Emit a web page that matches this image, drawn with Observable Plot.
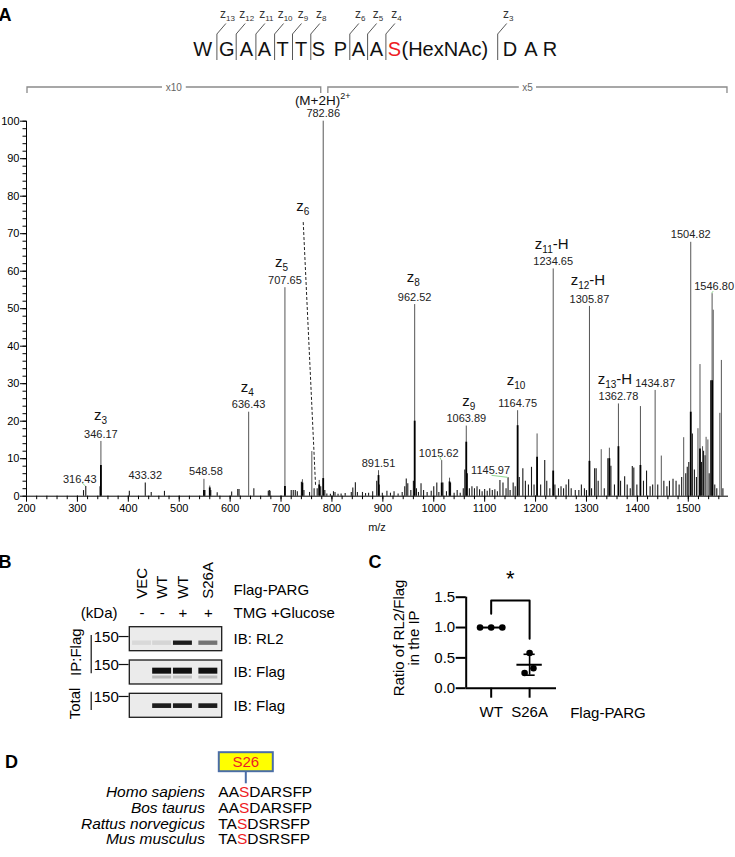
<!DOCTYPE html>
<html><head><meta charset="utf-8">
<script src="https://cdn.jsdelivr.net/npm/d3@7"></script>
<script src="https://cdn.jsdelivr.net/npm/@observablehq/plot@0.6"></script>
<style>
html,body{margin:0;padding:0;background:#fff;}
#fig{position:relative;width:735px;height:857px;overflow:hidden;font-family:Arial,"Liberation Sans",Helvetica,sans-serif;}
#fig > svg{position:absolute;}
</style></head><body><div id="fig"></div>
<script>
const FONT = "Arial, 'Liberation Sans', Helvetica, sans-serif";
const RED = "#ee1c25";

// ================= Panel A data =================
const majorMz = [346.17, 548.58, 560, 636.43, 707.65, 742, 760.5, 775, 782.86, 891.51, 962.52, 1015.62, 1031, 1063.89, 1164.75, 1203, 1234.65, 1305.87, 1329, 1345, 1362.78, 1406, 1434.87, 1447, 1491, 1504.82, 1519, 1523, 1528, 1535, 1538.5, 1546.8, 1549, 1562, 1565];
const majorIntensity = [14.6, 4.5, 2.7, 22.4, 55.6, 4.4, 11.9, 4.2, 100, 6.8, 51.1, 9.5, 4.8, 18.7, 22.8, 16.6, 60.6, 50.6, 12.4, 12.8, 24.6, 23.9, 28.2, 10.7, 15.6, 67.7, 18, 35.1, 13.2, 15.7, 15, 54, 49.6, 22.1, 36.2];
const majorCore = [8.2, 1.5, 2.2, 0, 2.6, 3.5, 0, 3.0, 4.7, 5.5, 20, 3.5, 3.8, 14.4, 18.8, 10.4, 6.7, 9.3, 0, 10, 13.2, 8.2, 0, 0, 0, 22.4, 0, 12.6, 0, 0, 0, 30.8, 0, 0, 0];

const minorMz = [312, 316.43, 344.5, 402, 433.32, 445, 471, 550.5, 562, 574.6, 603, 615, 617.5, 646.6, 675, 677, 678.5, 720, 724, 728, 732, 740, 745, 756, 765, 771, 778, 786, 790, 797, 803, 806, 812, 818, 826, 838, 841, 846, 850, 860, 866, 872, 880, 888, 893, 899, 908, 915, 922, 930, 938, 943, 946, 949, 955, 960, 966, 970, 975, 980, 987, 995, 1000, 1006, 1010, 1018, 1025, 1033, 1040, 1046, 1052, 1058, 1061, 1066, 1070, 1075, 1080, 1085, 1090, 1095, 1100, 1105, 1110, 1115, 1120, 1125, 1130, 1136, 1142, 1145.97, 1150, 1156, 1160, 1168, 1175, 1180, 1186, 1192, 1197, 1210, 1218, 1222, 1228, 1238, 1245, 1250, 1255, 1260, 1265, 1270, 1278, 1285, 1290, 1296, 1300, 1310, 1316, 1319, 1323, 1335, 1342, 1348, 1355, 1367, 1375, 1380, 1386, 1390, 1393, 1399, 1412, 1418, 1425, 1430, 1440, 1452, 1458, 1463, 1470, 1476, 1482, 1487, 1495, 1498, 1501, 1508, 1512, 1516, 1526, 1530, 1533, 1541, 1544, 1552, 1556, 1568];
const minorIntensity = [1.5, 2.6, 2.5, 1.3, 3.5, 1.0, 1.3, 1.5, 1.5, 0.9, 1.1, 1.8, 1.8, 2.0, 1.3, 1.5, 1.3, 1.5, 1.5, 1.5, 1.2, 3.7, 1.5, 1.0, 2.0, 2.0, 2.5, 1.5, 0.6, 0.5, 1.2, 1.0, 0.5, 0.6, 0.7, 1.0, 2.2, 3.6, 1.0, 1.0, 0.7, 0.8, 1.2, 4.0, 3.0, 0.8, 1.3, 0.8, 1.2, 0.6, 1.0, 2.5, 4.6, 3.3, 1.5, 4.0, 2.0, 1.0, 3.3, 1.5, 1.0, 1.3, 2.5, 3.5, 1.0, 3.5, 1.2, 3.5, 0.8, 1.5, 0.8, 2.0, 7.0, 6.0, 2.0, 2.5, 2.0, 2.5, 1.7, 1.2, 1.8, 1.3, 2.0, 1.5, 1.7, 1.2, 4.2, 3.5, 2.0, 4.9, 1.5, 3.5, 2.5, 5.0, 7.3, 4.0, 3.0, 7.7, 3.0, 3.0, 9.5, 4.0, 2.0, 3.0, 2.0, 2.5, 2.0, 3.0, 4.4, 2.0, 1.5, 1.5, 3.0, 2.0, 1.5, 2.0, 7.3, 7.3, 4.0, 2.0, 10.0, 8.0, 3.0, 4.0, 5.2, 3.0, 2.0, 7.9, 7.5, 3.0, 4.0, 6.7, 2.5, 3.0, 3.0, 4.0, 2.5, 4.0, 4.5, 4.0, 3.0, 5.0, 6.0, 7.7, 9.0, 16.6, 7.0, 5.0, 9.0, 12.0, 10.8, 6.0, 30.8, 3.0, 2.0, 2.0];

const labelMz = [316.43, 346.17, 433.32, 548.58, 636.43, 707.65, 782.86, 891.51, 962.52, 1015.62, 1063.89, 1145.97, 1164.75, 1234.65, 1305.87, 1362.78, 1434.87, 1504.82, 1546.80];
const ionMz = [346.17, 636.43, 707.65, 962.52, 1063.89, 1164.75, 1234.65, 1305.87, 1362.78];
const ionIndex = ["3", "4", "5", "8", "9", "10", "11", "12", "13"];
const ionSuffix = ["", "", "", "", "", "", "-H", "-H", "-H"];
const precursorMz = 782.86;
const z6Line = {mz1: 743.6, i1: 73.1, mz2: 767.8, i2: 2.9};
const xTicksMajor = d3.range(200, 1501, 100);
const xTicksMinor = d3.range(200, 1580, 20);
const yTicksMajor = d3.range(0, 101, 10);
const yTicksMinor = d3.range(0, 101, 2);
const magnifyRanges = [{from: 200, to: 779, text: "x10"}, {from: 791, to: 1577, text: "x5"}];
const peptide = ["W", "G", "A", "A", "T", "T", "S", "P", "A", "A", "S", "(HexNAc)", "D", "A", "R"];
const peptideSite = 10;
const zCleavage = ["13", "12", "11", "10", "9", "8", "6", "5", "4", "3"];

// layout (px) for label nudges / header
const X_DOMAIN = [200, 1579];
const PX_PER_MZ = (735 - 26 - 7) / (X_DOMAIN[1] - X_DOMAIN[0]);
const labelDx = {316.43: -6, 548.58: 2, 1015.62: -3, 1145.97: -17.5, 1546.8: 2};
const ionDx = [0, -1, -3, -1, 3, -1, -1, -1, -3];
const ionLift = [18.3, 17.3, 17.7, 19.3, 16.6, 22.3, 16.7, 18, 16.4];
const seqX = [202.8, 226.8, 246.5, 264.3, 282.5, 301, 318.5, 340.4, 358.5, 376.3, 394.4, 401.5, 510, 531, 550];
const cutX = [216.9, 236.2, 255.9, 274.6, 292.5, 310.8, 349.8, 367.6, 385.9, 497.7];

const peaksMajor = majorMz.map((mz, i) => ({mz, top: majorIntensity[i], core: majorCore[i]}));
const peaksMinor = minorMz.map((mz, i) => ({mz, top: minorIntensity[i]}));
const allPeaks = peaksMajor.concat(peaksMinor);
const topOf = mz => allPeaks.find(p => Math.abs(p.mz - mz) < 0.001).top;
const labels = labelMz.map(mz => ({mz, lx: mz + (labelDx[mz] || 0) / PX_PER_MZ, top: topOf(mz), text: d3.format(".2f")(mz)}));

const plotA = Plot.plot({
  width: 735, height: 540,
  marginLeft: 26, marginRight: 7, marginTop: 120.7, marginBottom: 44.3,
  x: {domain: X_DOMAIN},
  y: {domain: [0, 100]},
  style: {fontFamily: FONT, fontSize: "11px", background: "transparent", overflow: "visible", color: "#000"},
  marks: [
    Plot.ruleX(peaksMinor, {x: "mz", y1: 0, y2: "top", stroke: "#1a1a1a", strokeWidth: 1.1}),
    Plot.ruleX(peaksMajor, {x: "mz", y1: 0, y2: "top", stroke: "#555", strokeWidth: 1}),
    Plot.ruleX(peaksMajor.filter(d => d.core > 0), {x: "mz", y1: 0, y2: "core", stroke: "#000", strokeWidth: 1.8}),
    Plot.link([z6Line], {x1: "mz1", y1: "i1", x2: "mz2", y2: "i2", stroke: "#222", strokeWidth: 1, strokeDasharray: "3,2"}),
    Plot.ruleY([0], {stroke: "#000", strokeWidth: 1}),
    Plot.ruleX([200], {y1: 0, y2: 100, stroke: "#000", strokeWidth: 1}),
    Plot.axisY({ticks: yTicksMajor, tickSize: 6, tickPadding: 1, label: null, fontSize: 11}),
    Plot.axisY({ticks: yTicksMinor, tickSize: 3.5, tickFormat: () => "", label: null}),
    Plot.axisX({ticks: xTicksMajor, tickSize: 6, tickPadding: 2, label: null, tickFormat: d3.format("d"), fontSize: 11}),
    Plot.axisX({ticks: xTicksMinor, tickSize: 3.5, tickFormat: () => "", label: null}),
    Plot.text(labels, {x: "lx", y: "top", text: "text", dy: -7.4, fill: "#222", fontSize: 11})
  ]
});
document.getElementById("fig").appendChild(plotA);
d3.select(plotA).style("left", "0px").style("top", "0px");

(function decorateA() {
  const sx = plotA.scale("x").apply, sy = plotA.scale("y").apply;
  const g = d3.select(plotA).append("g").attr("font-family", FONT).attr("fill", "#111");
  g.append("text").attr("x", 5).attr("y", 21).attr("font-size", 18).attr("font-weight", "bold").attr("fill", "#000").text("A");
  const lead = [[316.43, -3, -3], [1015.62, -2, -4], [1145.97, -16, -2], [1546.8, 1.5, -2]];
  for (const [mz, dx, dy] of lead) {
    const px = sx(mz), py = sy(topOf(mz));
    g.append("line").attr("x1", px + dx).attr("y1", py + dy).attr("x2", px).attr("y2", py)
      .attr("stroke", "#8ed88e").attr("stroke-width", 1);
  }
  ionMz.forEach((mz, i) => {
    const x = sx(mz) + ionDx[i];
    const y = sy(topOf(mz)) - 7.4 - ionLift[i] + 4.5;
    const t = g.append("text").attr("x", x).attr("y", y).attr("text-anchor", "middle").attr("font-size", 15);
    t.append("tspan").text("z");
    t.append("tspan").attr("font-size", 10).attr("dy", 4).text(ionIndex[i]);
    if (ionSuffix[i]) t.append("tspan").attr("dy", -4).text(ionSuffix[i]);
  });
  {
    const t = g.append("text").attr("x", sx(z6Line.mz1)).attr("y", sy(z6Line.i1) - 11).attr("text-anchor", "middle").attr("font-size", 15);
    t.append("tspan").text("z");
    t.append("tspan").attr("font-size", 10).attr("dy", 4).text("6");
  }
  {
    const t = g.append("text").attr("x", sx(precursorMz)).attr("y", 104.5).attr("text-anchor", "middle").attr("font-size", 13.5);
    t.append("tspan").text("(M+2H)");
    t.append("tspan").attr("font-size", 9).attr("dy", -6).text("2+");
  }
  for (const r of magnifyRanges) {
    const x1 = sx(r.from) + 1, x2 = sx(r.to), xm = (x1 + x2) / 2, y = 87;
    const gap = r.text.length * 3.3 + 2;
    g.append("path").attr("d", `M${x1},93V${y}H${xm - gap}M${xm + gap},${y}H${x2}V93`)
      .attr("fill", "none").attr("stroke", "#8a8a8a").attr("stroke-width", 1.3);
    g.append("text").attr("x", xm).attr("y", y + 3.5).attr("text-anchor", "middle").attr("font-size", 10).attr("fill", "#666").text(r.text);
  }
  g.append("text").attr("x", (sx(X_DOMAIN[0]) + sx(X_DOMAIN[1])) / 2).attr("y", 531).attr("text-anchor", "middle").attr("font-size", 11).text("m/z");
  peptide.forEach((res, i) => {
    g.append("text").attr("x", seqX[i]).attr("y", 56).attr("font-size", 20)
      .attr("text-anchor", res.length > 1 ? "start" : "middle")
      .attr("fill", i === peptideSite ? RED : "#111").text(res);
  });
  zCleavage.forEach((z, i) => {
    const x = cutX[i];
    g.append("path").attr("d", `M${x},60V34L${x + 9},23.5`).attr("fill", "none").attr("stroke", "#444").attr("stroke-width", 0.9);
    const t = g.append("text").attr("x", x + 10.5).attr("y", 18).attr("text-anchor", "middle").attr("font-size", 12).attr("fill", "#333");
    t.append("tspan").text("z");
    t.append("tspan").attr("font-size", 8).attr("dy", 3).text(z);
  });
})();

// ================= Panel B data =================
const laneNames = ["VEC", "WT", "WT", "S26A"];
const tmgGlucose = ["-", "-", "+", "+"];
const blotLabels = ["IB: RL2", "IB: Flag", "IB: Flag"];
const markerKDa = ["150", "150", "150"];
const bandRL2 = [0.08, 0.1, 0.95, 0.55];
const bandFlagIP = [0, 1, 1, 1];
const bandFlagIPLower = [0, 0.22, 0.18, 0.22];
const bandFlagTotal = [0, 0.95, 0.95, 0.95];

const bandSpec = [
  {row: 1, off: 0.12, half: 0.065, values: bandRL2},
  {row: 2, off: -0.04, half: 0.09, values: bandFlagIP},
  {row: 2, off: 0.15, half: 0.045, values: bandFlagIPLower},
  {row: 3, off: 0.01, half: 0.07, values: bandFlagTotal}
];
const bands = bandSpec.flatMap(s => s.values.map((v, i) => ({lane: i + 1, row: s.row, off: s.off, half: s.half, v}))).filter(d => d.v > 0);
const rows = [1, 2, 3];
const kdaOff = [-0.05, -0.21, -0.25];
const laneShift = [0.03, -0.1, -0.2, -0.1];

const plotB = Plot.plot({
  width: 370, height: 190,
  marginLeft: 129.3, marginRight: 148.3, marginTop: 98.7, marginBottom: 24.7,
  x: {domain: [0.5, 4.5], axis: null},
  y: {domain: [3, 1], axis: null},
  style: {fontFamily: FONT, fontSize: "15px", background: "transparent", overflow: "visible", color: "#000"},
  marks: [
    Plot.rect(rows, {x1: 0.5, x2: 4.5, y1: r => r - 0.36, y2: r => r + 0.36, fill: "#ebebeb", stroke: "#1a1a1a", strokeWidth: 1.3}),
    Plot.rect(bands, {x1: d => d.lane + laneShift[d.lane - 1] - 0.41, x2: d => d.lane + laneShift[d.lane - 1] + 0.41, y1: d => d.row + d.off - d.half, y2: d => d.row + d.off + d.half,
      fill: "#111", fillOpacity: "v", ariaLabel: "bands"}),
    Plot.text(laneNames, {x: (d, i) => i + 1 + laneShift[i], y: -0.213, rotate: -90, textAnchor: "start", fontSize: 15}),
    Plot.text(tmgGlucose, {x: (d, i) => i + 1 + laneShift[i], y: 0.228, fontSize: 15}),
    Plot.text(["Flag-PARG"], {x: 4.5, y: -0.462, dx: 11.3, textAnchor: "start", fontSize: 15}),
    Plot.text(["TMG +Glucose"], {x: 4.5, y: 0.228, dx: 11.3, textAnchor: "start", fontSize: 15}),
    Plot.text(["(kDa)"], {x: 0.5, y: 0.228, dx: -12.3, textAnchor: "end", fontSize: 15}),
    Plot.text(blotLabels, {x: 4.5, y: (d, i) => rows[i], dx: 11.3, textAnchor: "start", fontSize: 15}),
    Plot.text(markerKDa, {x: 0.5, y: (d, i) => rows[i] + kdaOff[i], dx: -11, textAnchor: "end", fontSize: 15}),
    Plot.ruleY(rows, {y: (d, i) => rows[i] + kdaOff[i] - 0.03, x1: 0.035, x2: 0.47, stroke: "#111", strokeWidth: 1.2}),
    Plot.ruleX([-1.171], {y1: 0.89, y2: 2.04, stroke: "#111", strokeWidth: 1.2}),
    Plot.ruleX([-1.171], {y1: 2.59, y2: 3.14, stroke: "#111", strokeWidth: 1.2}),
    Plot.text(["IP:Flag"], {x: -1.84, y: 1.39, rotate: -90, fontSize: 15}),
    Plot.text(["Total"], {x: -1.88, y: 2.93, rotate: -90, fontSize: 15})
  ]
});
document.getElementById("fig").appendChild(plotB);
d3.select(plotB).style("left", "0px").style("top", "540px");
{
  const s = d3.select(plotB);
  const defs = s.append("defs");
  defs.append("filter").attr("id", "bandBlur").attr("x", "-20%").attr("y", "-100%").attr("width", "140%").attr("height", "300%")
    .append("feGaussianBlur").attr("stdDeviation", "1.1 0.9");
  s.select('g[aria-label="bands"]').attr("filter", "url(#bandBlur)");
  s.append("text").attr("x", 5).attr("y", 28.3).attr("font-size", 18).attr("font-weight", "bold").attr("font-family", FONT).text("B");
}

// ================= Panel C data =================
const groups = ["WT", "S26A"];
const ratioWT = [1.0, 1.0, 1.0];
const ratioS26A = [0.58, 0.25, 0.33];
const yTicksC = [0, 0.5, 1.0, 1.5];
const yTitleC = ["Ratio of RL2/Flag", "in the IP"];
const jitterWT = [-0.29, 0, 0.29];
const jitterS26A = [0, -0.13, 0.1];

const pointsC = ratioWT.map((v, i) => ({g: 0, x: jitterWT[i], v})).concat(ratioS26A.map((v, i) => ({g: 1, x: 1 + jitterS26A[i], v})));
const summaryC = [ratioWT, ratioS26A].map((arr, g) => ({g, mean: d3.mean(arr), sd: d3.deviation(arr)}));

const plotC = Plot.plot({
  width: 365, height: 185,
  marginLeft: 95.7, marginRight: 179, marginTop: 56.7, marginBottom: 37.3,
  x: {domain: [-0.65, 1.7]},
  y: {domain: [0, 1.5]},
  style: {fontFamily: FONT, fontSize: "15px", background: "transparent", overflow: "visible", color: "#000"},
  marks: [
    Plot.ruleY([0], {stroke: "#000", strokeWidth: 2}),
    Plot.ruleX([-0.65], {y1: 0, y2: 1.5, stroke: "#000", strokeWidth: 2}),
    Plot.axisY({ticks: yTicksC, tickSize: 10, tickPadding: 1, tickFormat: d3.format(".1f"), label: null, fontSize: 15, strokeWidth: 2}),
    Plot.axisX({ticks: [0, 1], tickSize: 10, tickPadding: 8, tickFormat: i => groups[i], label: null, fontSize: 15, strokeWidth: 2}),
    Plot.ruleY(summaryC, {y: "mean", x1: d => d.g - 0.33, x2: d => d.g + 0.33, stroke: "#000", strokeWidth: 2}),
    Plot.ruleX(summaryC.filter(d => d.sd > 0), {x: "g", y1: d => d.mean - d.sd, y2: d => d.mean + d.sd, stroke: "#000", strokeWidth: 1.6}),
    Plot.ruleY(summaryC.filter(d => d.sd > 0), {y: d => d.mean + d.sd, x1: d => d.g - 0.145, x2: d => d.g + 0.145, stroke: "#000", strokeWidth: 1.6}),
    Plot.ruleY(summaryC.filter(d => d.sd > 0), {y: d => d.mean - d.sd, x1: d => d.g - 0.145, x2: d => d.g + 0.145, stroke: "#000", strokeWidth: 1.6}),
    Plot.dot(pointsC, {x: "x", y: "v", r: 3.3, fill: "#000", stroke: "none"}),
    Plot.line([[0, 1.226], [0, 1.445], [1, 1.445], [1, 0.814]], {stroke: "#000", strokeWidth: 2}),
    Plot.text(["*"], {x: 0.5, y: 1.445, dy: -22, fontSize: 22}),
    Plot.text(["Flag-PARG"], {x: 3.04, y: 0, dy: 25, fontSize: 15})
  ]
});
document.getElementById("fig").appendChild(plotC);
d3.select(plotC).style("left", "370px").style("top", "540px");
{
  const s = d3.select(plotC);
  s.append("text").attr("x", 5).attr("y", 28.3).attr("font-size", 18).attr("font-weight", "bold").attr("font-family", FONT).text("C");
  const yc = plotC.scale("y").apply(0.82);
  yTitleC.forEach((t, i) => {
    const x = 28.3 + i * 15;
    s.append("text").attr("transform", `translate(${x},${yc}) rotate(-90)`)
      .style("text-anchor", "middle").style("font-size", "15px").style("font-family", FONT)
      .attr("dy", "0.35em").text(t);
  });
}

// ================= Panel D data =================
const species = ["Homo sapiens", "Bos taurus", "Rattus norvegicus", "Mus musculus"];
const sequences = ["AASDARSFP", "AASDARSFP", "TASDSRSFP", "TASDSRSFP"];
const siteIdx = 2;
const siteLabel = "S26";
{
  const svg = d3.select("#fig").append("svg").attr("width", 735).attr("height", 117)
    .style("left", "0px").style("top", "740px").attr("font-family", FONT);
  svg.append("text").attr("x", 5).attr("y", 28).attr("font-size", 18).attr("font-weight", "bold").text("D");
  svg.append("rect").attr("x", 218.8).attr("y", 12.2).attr("width", 54).attr("height", 19)
    .attr("fill", "#ffff00").attr("stroke", "#4a6da7").attr("stroke-width", 2);
  svg.append("text").attr("x", 245.8).attr("y", 27).attr("text-anchor", "middle").attr("font-size", 15).attr("fill", RED).text(siteLabel);
  svg.append("line").attr("x1", 245.8).attr("x2", 245.8).attr("y1", 31.7).attr("y2", 43.3).attr("stroke", "#4a6da7").attr("stroke-width", 2);
  const rowY = [57, 72.8, 88.6, 104.4];
  species.forEach((sp, i) => {
    svg.append("text").attr("x", 205).attr("y", rowY[i]).attr("text-anchor", "end").attr("font-size", 15.5).attr("font-style", "italic").text(sp);
    const t = svg.append("text").attr("x", 218.3).attr("y", rowY[i]).attr("font-size", 15.5);
    const s = sequences[i];
    t.append("tspan").text(s.slice(0, siteIdx));
    t.append("tspan").attr("fill", RED).text(s[siteIdx]);
    t.append("tspan").text(s.slice(siteIdx + 1));
  });
}
</script></body></html>
